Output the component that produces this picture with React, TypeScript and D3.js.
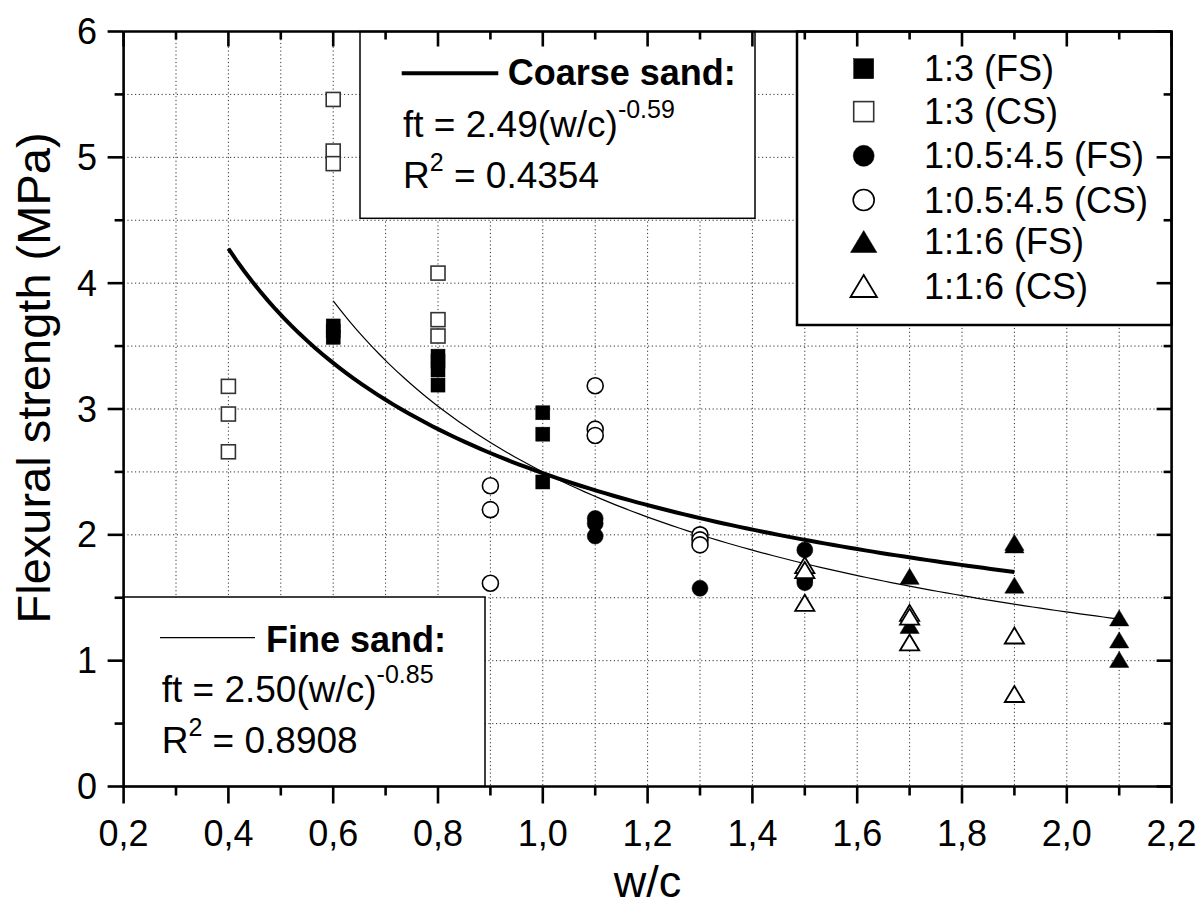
import React from 'react';
import * as d3 from 'd3';

const W = 1203;
const H = 916;
const FONT = '"Liberation Sans", Arial, Helvetica, sans-serif';

// ---- data ----
const xTickValues = [0.2, 0.4, 0.6, 0.8, 1.0, 1.2, 1.4, 1.6, 1.8, 2.0, 2.2];
const xTickLabels = ['0,2', '0,4', '0,6', '0,8', '1,0', '1,2', '1,4', '1,6', '1,8', '2,0', '2,2'];
const yTickValues = [0, 1, 2, 3, 4, 5, 6];
const yTickLabels = ['0', '1', '2', '3', '4', '5', '6'];

const seriesNames = ['1:3 (FS)', '1:3 (CS)', '1:0.5:4.5 (FS)', '1:0.5:4.5 (CS)', '1:1:6 (FS)', '1:1:6 (CS)'];
const seriesShapes = ['square', 'square', 'circle', 'circle', 'triangle', 'triangle'];
const seriesFilled = [true, false, true, false, true, false];

const mortar13FS: [number, number][] = [
  [0.6, 3.66], [0.6, 3.62], [0.6, 3.57],
  [0.8, 3.42], [0.8, 3.38], [0.8, 3.31], [0.8, 3.19],
  [1.0, 2.97], [1.0, 2.80], [1.0, 2.42],
];
const mortar13CS: [number, number][] = [
  [0.4, 3.18], [0.4, 2.96], [0.4, 2.66],
  [0.6, 5.46], [0.6, 5.05], [0.6, 4.95],
  [0.8, 4.08], [0.8, 3.71], [0.8, 3.58],
];
const mortar1045FS: [number, number][] = [
  [1.1, 2.13], [1.1, 2.09], [1.1, 1.99],
  [1.3, 1.575],
  [1.5, 1.88], [1.5, 1.65], [1.5, 1.62],
];
const mortar1045CS: [number, number][] = [
  [0.9, 2.39], [0.9, 2.20], [0.9, 1.615],
  [1.1, 3.185], [1.1, 2.84], [1.1, 2.79],
  [1.3, 2.00], [1.3, 1.96], [1.3, 1.92],
];
const mortar116FS: [number, number][] = [
  [1.7, 1.67], [1.7, 1.28],
  [1.9, 1.94], [1.9, 1.92], [1.9, 1.60],
  [2.1, 1.34], [2.1, 1.165], [2.1, 1.01],
];
const mortar116CS: [number, number][] = [
  [1.5, 1.76], [1.5, 1.72], [1.5, 1.46],
  [1.7, 1.38], [1.7, 1.35], [1.7, 1.145],
  [1.9, 1.20], [1.9, 0.735],
];
const seriesData = [mortar13FS, mortar13CS, mortar1045FS, mortar1045CS, mortar116FS, mortar116CS];

// power-law fits shown in the chart
const coarseFit = { a: 2.49, b: -0.59, from: 0.4, to: 1.9 };
const fineFit = { a: 2.50, b: -0.85, from: 0.6, to: 2.1 };

// ---- layout ----
const X0 = 123.6, X1 = 1171.6, Y0 = 786.5, Y1 = 31.5;
const x = d3.scaleLinear().domain([0.2, 2.2]).range([X0, X1]);
const y = d3.scaleLinear().domain([0, 6]).range([Y0, Y1]);

function Marker({ shape, filled, cx, cy, s }: { shape: string; filled: boolean; cx: number; cy: number; s: number }) {
  const fill = filled ? '#000' : '#fff';
  const stroke = '#000';
  const sw = filled ? 0.5 : 1.6;
  if (shape === 'square') {
    const h = s / 2;
    return <rect x={cx - h} y={cy - h} width={s} height={s} fill={fill} stroke={filled ? '#000' : '#333'} strokeWidth={sw} />;
  }
  if (shape === 'circle') {
    return <circle cx={cx} cy={cy} r={s / 2} fill={fill} stroke={stroke} strokeWidth={sw} />;
  }
  const w = s * 1.2;
  const h = s;
  const p = `M${cx},${cy - h / 2}L${cx + w / 2},${cy + h / 2}L${cx - w / 2},${cy + h / 2}Z`;
  return <path d={p} fill={fill} stroke={stroke} strokeWidth={filled ? 0.5 : 1.8} strokeLinejoin="miter" />;
}

function fitPath(f: { a: number; b: number; from: number; to: number }) {
  const pts = d3.range(0, 101).map((i) => f.from + ((f.to - f.from) * i) / 100);
  return d3.line<number>().x((v) => x(v)).y((v) => y(f.a * Math.pow(v, f.b)))(pts) || '';
}

export default function App() {
  const xMinor = d3.range(3, 22).map((v) => v / 10);
  const yMinor = d3.range(1, 12).map((v) => v / 2);
  const markerSize = [14, 14, 16, 16, 16, 16];
  const legendSize = [20, 20, 21, 21, 22, 22];
  const legendRows = [68.7, 111.6, 155.8, 200, 241.5, 286];

  return (
    <div style={{ position: 'absolute', left: 0, top: 0 }}>
      <svg width={W} height={H} style={{ display: 'block', background: '#fff' }} fontFamily={FONT}>
        <rect x={0} y={0} width={W} height={H} fill="#fff" />
        {/* grid */}
        <g stroke="#333" strokeWidth={1} strokeDasharray="1.2,2.6">
          {xMinor.map((v) => (
            <line key={'gx' + v} x1={x(v)} x2={x(v)} y1={Y1} y2={Y0} />
          ))}
          {yMinor.map((v) => (
            <line key={'gy' + v} x1={X0} x2={X1} y1={y(v)} y2={y(v)} />
          ))}
        </g>

        {/* fit curves */}
        <path d={fitPath(coarseFit)} fill="none" stroke="#000" strokeWidth={4} />
        <path d={fitPath(fineFit)} fill="none" stroke="#000" strokeWidth={1.2} />

        {/* data */}
        {seriesData.map((data, si) => (
          <g key={'s' + si}>
            {data.map(([vx, vy], i) => (
              <Marker key={i} shape={seriesShapes[si]} filled={seriesFilled[si]} cx={x(vx)} cy={y(vy)} s={markerSize[si]} />
            ))}
          </g>
        ))}

        {/* coarse sand box */}
        <rect x={360} y={Y1} width={395} height={218.3 - Y1} fill="#fff" stroke="#000" strokeWidth={1.5} />
        <line x1={401.7} x2={498.3} y1={73.3} y2={73.3} stroke="#000" strokeWidth={4} />
        <text x={507.7} y={84.5} fontSize={36} fontWeight="bold">Coarse sand:</text>
        <text x={403} y={136.7} fontSize={37}>
          ft = 2.49(w/c)<tspan dy={-19} fontSize={25}>-0.59</tspan>
        </text>
        <text x={403} y={188.3} fontSize={37}>
          R<tspan dy={-17} fontSize={25}>2</tspan><tspan dy={17}> = 0.4354</tspan>
        </text>

        {/* fine sand box */}
        <rect x={X0} y={597} width={485 - X0} height={Y0 - 597} fill="#fff" stroke="#000" strokeWidth={1.5} />
        <line x1={160} x2={255} y1={637.7} y2={637.7} stroke="#000" strokeWidth={1.2} />
        <text x={266} y={651.7} fontSize={36} fontWeight="bold">Fine sand:</text>
        <text x={161.7} y={701.7} fontSize={37}>
          ft = 2.50(w/c)<tspan dy={-19} fontSize={25}>-0.85</tspan>
        </text>
        <text x={161.7} y={752.7} fontSize={37}>
          R<tspan dy={-17} fontSize={25}>2</tspan><tspan dy={17}> = 0.8908</tspan>
        </text>

        {/* legend */}
        <rect x={797} y={Y1} width={X1 - 797} height={325 - Y1} fill="#fff" stroke="#000" strokeWidth={2.5} />
        {seriesNames.map((name, i) => (
          <g key={'lg' + i}>
            <Marker shape={seriesShapes[i]} filled={seriesFilled[i]} cx={863.7} cy={legendRows[i]} s={legendSize[i]} />
            <text x={924} y={legendRows[i] + 12.5} fontSize={36}>{name}</text>
          </g>
        ))}

        {/* axes frame */}
        <g stroke="#000" strokeWidth={2.6} fill="none">
          <line x1={X0} x2={X1} y1={Y0} y2={Y0} />
          <line x1={X0} x2={X1} y1={Y1} y2={Y1} />
          <line x1={X0} x2={X0} y1={Y0} y2={Y1} />
          <line x1={X1} x2={X1} y1={Y0} y2={Y1} />
        </g>
        {/* ticks */}
        <g stroke="#000" strokeWidth={2.6}>
          {xMinor.concat([0.2, 2.2]).map((v) => {
            const major = Math.abs(Math.round(v * 10) % 2) === 0;
            const len = major ? 17 : 9;
            const lenIn = major ? 15 : 8;
            return (
              <g key={'xt' + v}>
                <line x1={x(v)} x2={x(v)} y1={Y0} y2={Y0 + len} />
                <line x1={x(v)} x2={x(v)} y1={Y1} y2={Y1 + lenIn} />
              </g>
            );
          })}
          {d3.range(0, 13).map((i) => {
            const v = i / 2;
            const major = i % 2 === 0;
            const len = major ? 16 : 9;
            const lenIn = major ? 15 : 8;
            return (
              <g key={'yt' + i}>
                <line x1={X0} x2={X0 - len} y1={y(v)} y2={y(v)} />
                <line x1={X1} x2={X1 - lenIn} y1={y(v)} y2={y(v)} />
              </g>
            );
          })}
        </g>
        {/* tick labels */}
        {xTickValues.map((v, i) => (
          <text key={'xl' + i} x={x(v)} y={846} fontSize={36} textAnchor="middle">{xTickLabels[i]}</text>
        ))}
        {yTickValues.map((v, i) => (
          <text key={'yl' + i} x={97} y={y(v) + 12.5} fontSize={36} textAnchor="end">{yTickLabels[i]}</text>
        ))}
        {/* axis titles */}
        <text x={(X0 + X1) / 2} y={897} fontSize={45} textAnchor="middle">w/c</text>
        <text transform={`translate(50,378) rotate(-90)`} fontSize={47} textAnchor="middle">Flexural strength (MPa)</text>
      </svg>
    </div>
  );
}
